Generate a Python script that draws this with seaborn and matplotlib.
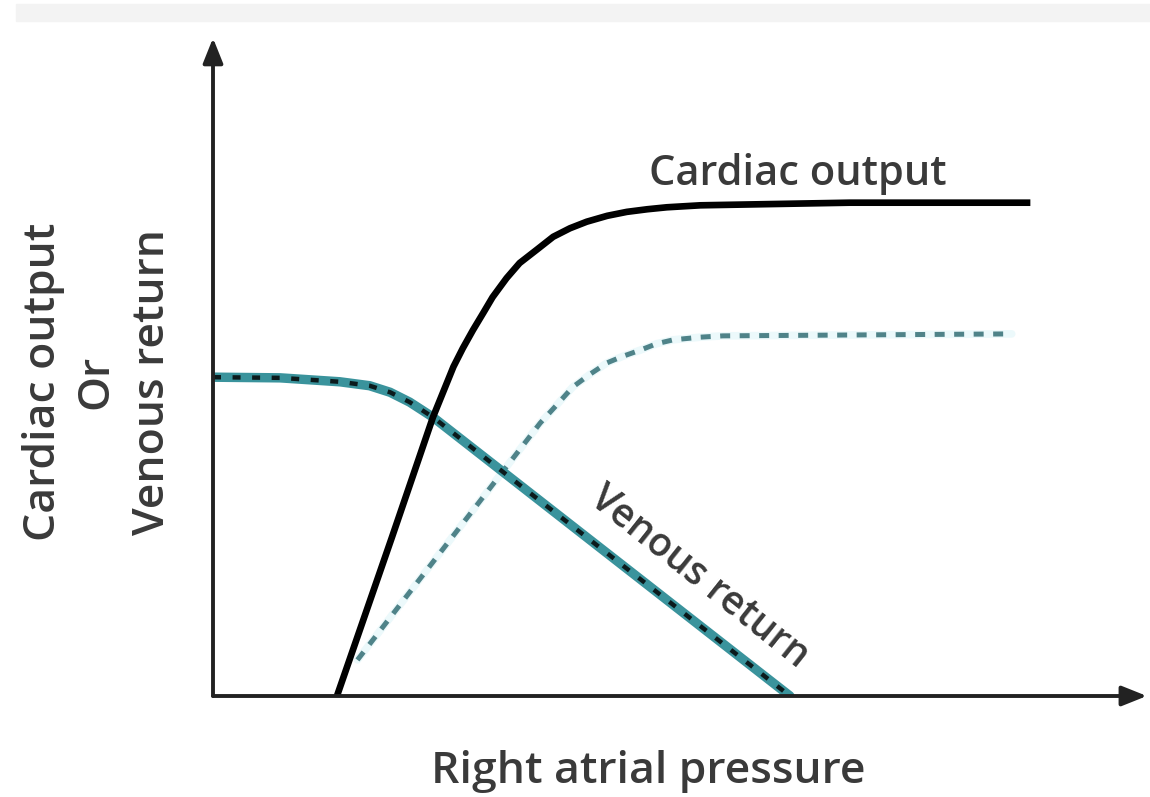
import numpy as np
import pandas as pd
import matplotlib.pyplot as plt
import seaborn as sns
from matplotlib.patches import Rectangle

# curves (arbitrary units, axes run 0..10)
co_x = [1.33, 1.92, 2.36, 2.58, 2.68, 2.79, 2.90, 3.00, 3.15, 3.29, 3.48, 3.65, 3.83,
        4.01, 4.23, 4.44, 4.66, 4.87, 5.23, 6.83, 8.77]
co_y = [0.00, 2.42, 4.25, 5.02, 5.30, 5.58, 5.84, 6.08, 6.37, 6.60, 6.81, 7.00, 7.13,
        7.23, 7.32, 7.38, 7.42, 7.45, 7.48, 7.52, 7.52]

co2_x = [1.55, 3.51, 3.69, 3.86, 4.05, 4.23, 4.40, 4.58, 4.76, 4.94, 5.23, 5.47, 8.57]
co2_y = [0.55, 4.16, 4.44, 4.71, 4.91, 5.08, 5.18, 5.27, 5.37, 5.43, 5.47, 5.49, 5.52]

vr_x = [0.00, 0.72, 1.36, 1.68, 1.90, 2.11, 2.36, 6.19]
vr_y = [4.86, 4.85, 4.79, 4.73, 4.63, 4.48, 4.25, 0.00]

x_label = "Right atrial pressure"
y_label = ["Cardiac output", "Or", "Venous return"]
co_label = "Cardiac output"
vr_label = "Venous return"

co = pd.DataFrame({"x": co_x, "y": co_y})
co2 = pd.DataFrame({"x": co2_x, "y": co2_y})
vr = pd.DataFrame({"x": vr_x, "y": vr_y})

sns.set_theme(style="white")
plt.rcParams['font.family'] = ['Open Sans', 'DejaVu Sans']
txt = "#3a3a3a"
fw = "semibold"

fig = plt.figure(figsize=(11.5, 7.97), dpi=100)
fig.patches.append(Rectangle((16 / 1150, 1 - 21 / 797), 1, 17 / 797,
                             transform=fig.transFigure, color="#f3f3f3", zorder=0))
ax = fig.add_axes([213 / 1150, 101 / 797, 932 / 1150, 656 / 797])
ax.set_xlim(0, 10)
ax.set_ylim(0, 10)
ax.set_axis_off()

# shifted cardiac output curve (dashed)
sns.lineplot(data=co2, x="x", y="y", ax=ax, sort=False, estimator=None,
             color="#ecf9fb", lw=5.5, solid_joinstyle="round")
sns.lineplot(data=co2, x="x", y="y", ax=ax, sort=False, estimator=None,
             color="#4f8389", lw=3.6, dashes=(2.0, 1.9))

# venous return: teal band with black dots
sns.lineplot(data=vr, x="x", y="y", ax=ax, sort=False, estimator=None,
             color="#3a939c", lw=6.8, solid_joinstyle="round")
sns.lineplot(data=vr, x="x", y="y", ax=ax, sort=False, estimator=None,
             color="#0b1a1c", lw=3.2, dashes=(1.8, 2.6))

# cardiac output
sns.lineplot(data=co, x="x", y="y", ax=ax, sort=False, estimator=None,
             color="black", lw=4.8, solid_capstyle="butt", solid_joinstyle="round")

# axes with arrow heads
arrow = dict(arrowstyle="-|>,head_length=0.8,head_width=0.32", color="#222222",
             lw=2.8, mutation_scale=19, shrinkA=0, shrinkB=0)
ax.annotate("", xy=(0, 10.03), xytext=(0, 0), arrowprops=arrow, annotation_clip=False)
ax.annotate("", xy=(10.02, 0), xytext=(0, 0), arrowprops=arrow, annotation_clip=False)

ax.text(6.28, 7.79, co_label, ha="center", va="baseline", fontsize=30,
        color=txt, fontweight=fw)
ax.text(5.21, 1.80, vr_label, ha="center", va="center", fontsize=28, color=txt,
        fontweight=fw, rotation=-38.5, rotation_mode="anchor")

fig.text(648 / 1150, 1 - 783 / 797, x_label, ha="center", va="baseline",
         fontsize=32, color=txt, fontweight=fw)
for xp, s in zip([44, 96, 152], y_label):
    fig.text(xp / 1150, 1 - 382 / 797, s, ha="center", va="center",
             rotation=90, fontsize=32, color=txt, fontweight=fw)

fig.savefig("out.png", dpi=100)
